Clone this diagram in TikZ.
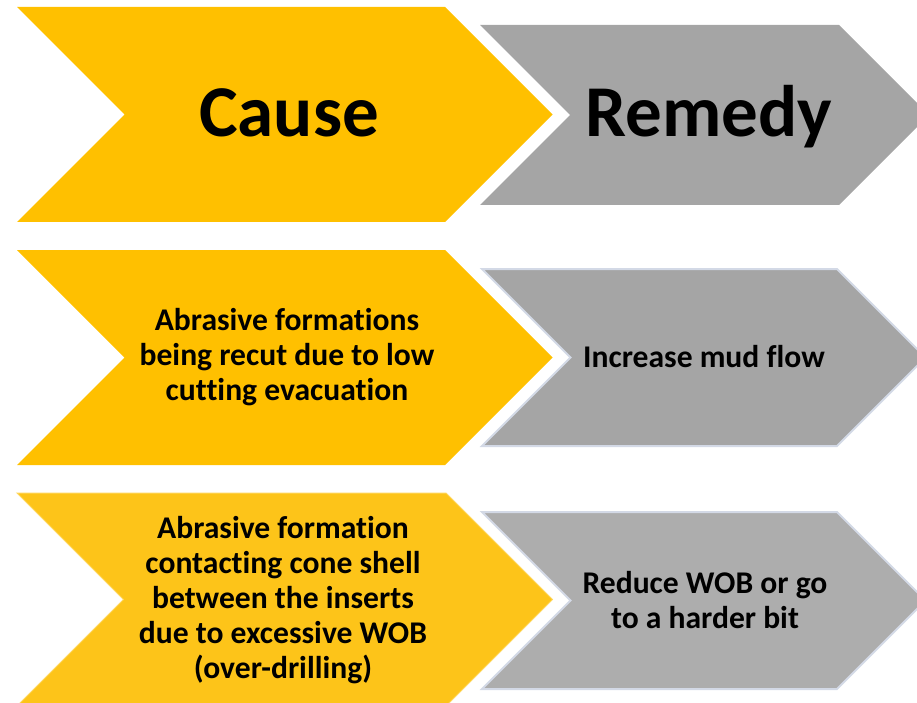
\documentclass[tikz,border=0pt]{standalone}
\usepackage{fontspec}
\setmainfont{Carlito}[Ligatures=NoCommon]
\definecolor{gold}{HTML}{FFC000}
\definecolor{goldb}{HTML}{FDC419}
\definecolor{slate}{HTML}{A5A5A5}
\definecolor{slateb}{HTML}{ADADAD}
\definecolor{rim}{HTML}{D3D9E6}
\begin{document}
\begin{tikzpicture}[x=1pt,y=-1pt,
        big/.style={font=\bfseries\fontsize{73}{80}\selectfont,anchor=base},
        txt/.style={font=\bfseries\fontsize{31.6}{35}\selectfont,align=center}]
\clip (0,0) rectangle (917,703);

% header row
\fill[gold] (17,7) -- (445,7) -- (552.5,114.5) -- (445,222) -- (17,222) -- (124.5,114.5) -- cycle;
\fill[slate] (480,25) -- (839,25) -- (929,115) -- (839,205) -- (480,205) -- (570,115) -- cycle;
\node[big] (cause) at (289,137) {Cause};
\node[big] (remedy) at (709,137) {Remedy};

% first row
\fill[gold] (17,250) -- (445,250) -- (552.5,357.5) -- (445,465) -- (17,465) -- (124.5,357.5) -- cycle;
\filldraw[fill=slate,draw=rim,line width=2pt] (482,269) -- (837,269) -- (925.5,357.5) -- (837,446) -- (482,446) -- (570.5,357.5) -- cycle;
\node[txt] (cause1) at (287,357) {Abrasive formations\\being recut due to low\\cutting evacuation};
\node[txt] (remedy1) at (704,357) {Increase mud flow};

% second row
\filldraw[fill=goldb,draw=goldb!70!white,line width=1pt] (17,493) -- (446,493) -- (552.5,599.5) -- (446,706) -- (17,706) -- (123.5,599.5) -- cycle;
\filldraw[fill=slateb,draw=rim,line width=2pt] (482,512) -- (837,512) -- (925.5,600.5) -- (837,689) -- (482,689) -- (570.5,600.5) -- cycle;
\node[txt] (cause2) at (283,600) {Abrasive formation\\contacting cone shell\\between the inserts\\due to excessive WOB\\(over-drilling)};
\node[txt] (remedy2) at (705,600) {Reduce WOB or go\\to a harder bit};
\end{tikzpicture}
\end{document}
